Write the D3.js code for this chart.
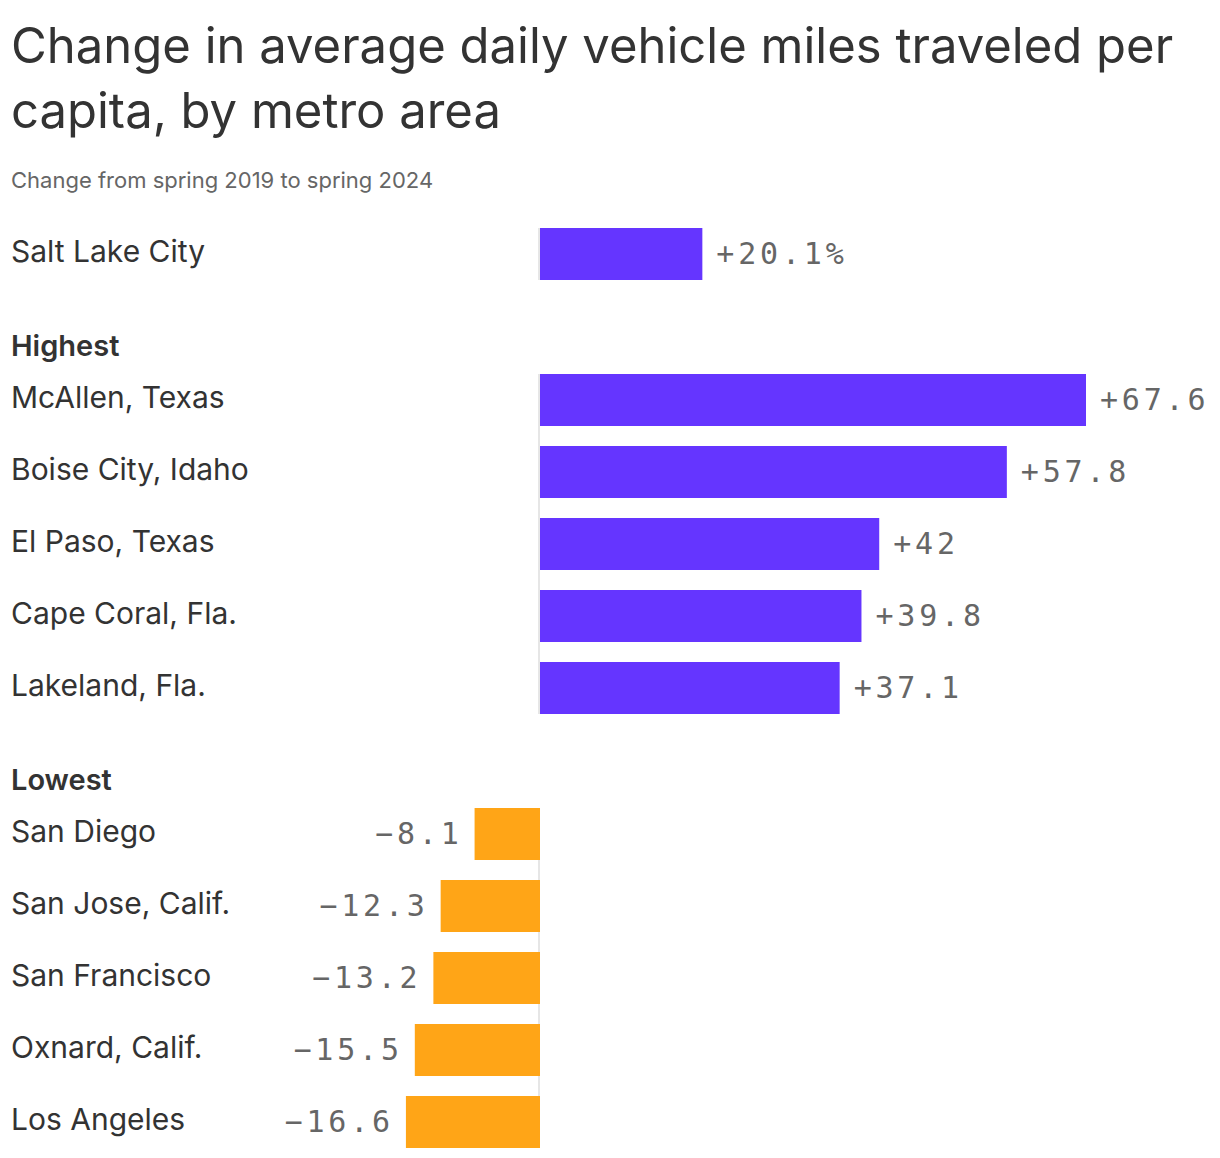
<!DOCTYPE html>
<html>
<head>
<meta charset="utf-8">
<script src="https://cdn.jsdelivr.net/npm/d3@7.9.0/dist/d3.min.js"></script>
<style>
  body { margin: 0; background: #fff; }
  svg { display: block; font-family: Inter, "Noto Sans", sans-serif; }
</style>
</head>
<body>
<svg id="chart" width="1220" height="1158"></svg>
<script>
const groups = ["", "Highest", "Lowest"];
const metros = [
  "Salt Lake City",
  "McAllen, Texas", "Boise City, Idaho", "El Paso, Texas", "Cape Coral, Fla.", "Lakeland, Fla.",
  "San Diego", "San Jose, Calif.", "San Francisco", "Oxnard, Calif.", "Los Angeles"
];
const metroGroup = [0, 1, 1, 1, 1, 1, 2, 2, 2, 2, 2];
const changes = [20.1, 67.6, 57.8, 42, 39.8, 37.1, -8.1, -12.3, -13.2, -15.5, -16.6];
const valueLabels = ["+20.1%", "+67.6", "+57.8", "+42", "+39.8", "+37.1", "−8.1", "−12.3", "−13.2", "−15.5", "−16.6"];

const svg = d3.select("#chart");
const barH = 52, step = 72, headerH = 74, firstY = 228;

const x = d3.scaleLinear().domain([0, 67.6]).range([540, 1086]);
const rowY = (i) => firstY + i * step + metroGroup[i] * headerH;

const data = metros.map((m, i) => ({ name: m, value: changes[i], label: valueLabels[i], group: metroGroup[i], y: rowY(i) }));

// title
svg.append("text").attr("x", 11).attr("y", 63)
  .attr("font-size", 49).attr("fill", "#333").attr("font-weight", 400)
  .text("Change in average daily vehicle miles traveled per");
svg.append("text").attr("x", 11).attr("y", 128)
  .attr("font-size", 49).attr("fill", "#333").attr("font-weight", 400)
  .text("capita, by metro area");
svg.append("text").attr("x", 11).attr("y", 188)
  .attr("font-size", 22).attr("fill", "#666")
  .text("Change from spring 2019 to spring 2024");

// zero line per group
const spans = d3.rollups(data, v => [d3.min(v, d => d.y), d3.max(v, d => d.y) + barH], d => d.group);
svg.append("g").selectAll("rect")
  .data(spans)
  .join("rect")
  .attr("x", x(0) - 2).attr("width", 2)
  .attr("y", d => d[1][0]).attr("height", d => d[1][1] - d[1][0])
  .attr("fill", "#e6e6e6");

// group headers
svg.append("g").selectAll("text")
  .data(groups.map((g, i) => ({ g, i })).filter(d => d.g))
  .join("text")
  .attr("x", 11)
  .attr("y", d => d3.min(data.filter(r => r.group === d.i), r => r.y) - 28)
  .attr("dy", "0.35em")
  .attr("font-size", 29).attr("font-weight", 600).attr("fill", "#333")
  .text(d => d.g);

// bars
svg.append("g").selectAll("rect")
  .data(data)
  .join("rect")
  .attr("x", d => Math.min(x(0), x(d.value)))
  .attr("width", d => Math.abs(x(d.value) - x(0)))
  .attr("y", d => d.y).attr("height", barH)
  .attr("fill", d => d.value >= 0 ? "#6535ff" : "#ffa517");

// metro labels
svg.append("g").selectAll("text")
  .data(data)
  .join("text")
  .attr("x", 11).attr("y", d => d.y + barH / 2 - 3)
  .attr("dy", "0.35em")
  .attr("font-size", 30).attr("fill", "#333")
  .text(d => d.name);

// value labels
svg.append("g").selectAll("text")
  .data(data)
  .join("text")
  .attr("x", d => d.value >= 0 ? x(d.value) + 14 : x(d.value) - 12)
  .attr("y", d => d.y + barH / 2 - 1)
  .attr("dy", "0.35em")
  .attr("text-anchor", d => d.value >= 0 ? "start" : "end")
  .attr("font-family", "'DejaVu Sans Mono', monospace")
  .attr("font-size", 30).attr("letter-spacing", 3.8).attr("fill", "#666")
  .text(d => d.label);
</script>
</body>
</html>
